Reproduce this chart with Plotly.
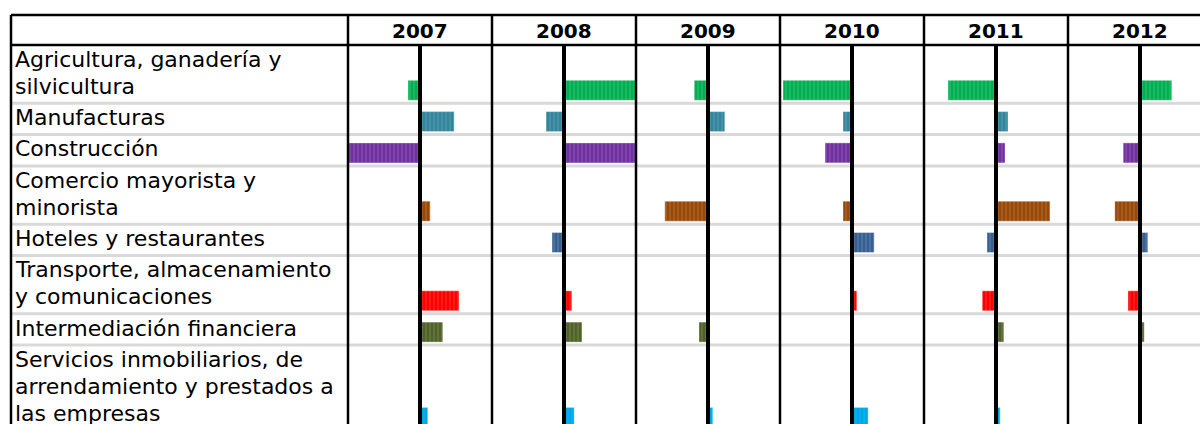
import plotly.graph_objects as go

# ---------------- data ----------------
years = ["2007", "2008", "2009", "2010", "2011", "2012"]
sectors = [
    "Agricultura, ganadería y\nsilvicultura",
    "Manufacturas",
    "Construcción",
    "Comercio mayorista y\nminorista",
    "Hoteles y restaurantes",
    "Transporte, almacenamiento\ny comunicaciones",
    "Intermediación financiera",
    "Servicios inmobiliarios, de\narrendamiento y prestados a\nlas empresas",
]
colors = ["#00B050", "#31859C", "#7030A0", "#984807",
          "#376092", "#FF0000", "#4F6228", "#00B0F0"]

v2007 = [-2.0, 5.7, -14.0, 1.7, 0.0, 6.5, 3.8, 1.3]
v2008 = [14.0, -3.0, 14.0, 0.0, -2.0, 1.3, 3.0, 1.7]
v2009 = [-2.3, 2.8, 0.0, -7.2, 0.0, 0.0, -1.5, 0.8]
v2010 = [-11.5, -1.5, -4.5, -1.5, 3.7, 0.8, 0.0, 2.7]
v2011 = [-8.0, 2.0, 1.5, 9.0, -1.5, -2.3, 1.3, 0.7]
v2012 = [5.3, 0.0, -2.8, -4.2, 1.3, -2.0, 0.7, 0.0]
values = [v2007, v2008, v2009, v2010, v2011, v2012]

# ---------------- layout constants (page pixels) ----------------
W, H = 1200, 424
LEFT = 11
TOP = 15
HEAD_BOTTOM = 45
LABEL_RIGHT = 348
COL_W = 144
LINE_H = 27
PAD = 4.3
XMAX = 12.0          # value reached at half a column width
BAR_H = 20
FONT = "DejaVu Sans"
LABEL_SIZE = 22
YEAR_SIZE = 20


def px(xpage):
    return xpage / W


lines_per_row = [s.split("\n") for s in sectors]
row_bottoms = []
y = HEAD_BOTTOM
for ls in lines_per_row:
    y += PAD + LINE_H * len(ls)
    row_bottoms.append(y)

fig = go.Figure()
shapes = []
annotations = []

for i, (yr, vals) in enumerate(zip(years, values)):
    left = LABEL_RIGHT + i * COL_W
    center = left + COL_W / 2
    right = min(left + COL_W, W)
    upper = XMAX * (right - center) / (COL_W / 2)
    ax = "x" if i == 0 else f"x{i+1}"
    axkey = "xaxis" if i == 0 else f"xaxis{i+1}"
    fig.update_layout(**{axkey: dict(domain=[px(left), px(right)],
                                     range=[-XMAX, upper],
                                     visible=False, fixedrange=True, anchor="y")})
    fig.add_trace(go.Bar(
        x=vals, y=[rb - 3 - BAR_H / 2 for rb in row_bottoms], width=BAR_H,
        orientation="h", xaxis=ax, yaxis="y",
        marker=dict(color=colors, line=dict(width=0.6, color="rgba(255,255,255,0.6)"),
                    pattern=dict(shape="|", fgcolor="white", fgopacity=0.25,
                                 size=4, solidity=0.2, fillmode="overlay")),
        showlegend=False, hoverinfo="x",
    ))
    shapes.append(dict(type="line", xref=ax, yref="y", x0=0, x1=0,
                       y0=HEAD_BOTTOM, y1=H + 20, line=dict(color="black", width=4),
                       layer="above"))
    annotations.append(dict(text=f"<b>{yr}</b>", x=px(center), xref="paper",
                            y=31, yref="y", showarrow=False,
                            xanchor="center", yanchor="middle",
                            font=dict(family=FONT, size=YEAR_SIZE, color="black")))

# row separators
for rb in row_bottoms[:-1]:
    shapes.append(dict(type="line", xref="paper", yref="y", x0=px(LEFT), x1=1,
                       y0=rb, y1=rb, line=dict(color="#D9D9D9", width=3), layer="below"))

# labels
for ls, rb in zip(lines_per_row, row_bottoms):
    n = len(ls)
    for k, txt in enumerate(ls):
        annotations.append(dict(text=txt, x=px(LEFT + 2), xref="paper",
                                y=rb - 17 - (n - 1 - k) * LINE_H, yref="y",
                                showarrow=False, xanchor="left", yanchor="middle",
                                font=dict(family=FONT, size=LABEL_SIZE, color="black")))

# table borders
shapes.append(dict(type="line", xref="paper", yref="y", x0=px(LEFT), x1=1,
                   y0=TOP, y1=TOP, line=dict(color="black", width=2.5), layer="above"))
shapes.append(dict(type="line", xref="paper", yref="y", x0=px(LEFT), x1=1,
                   y0=HEAD_BOTTOM, y1=HEAD_BOTTOM, line=dict(color="black", width=2.5),
                   layer="above"))
shapes.append(dict(type="line", xref="paper", yref="y", x0=px(LEFT), x1=px(LEFT),
                   y0=TOP, y1=H + 20, line=dict(color="black", width=2.5), layer="above"))
for i in range(len(years)):
    xl = px(LABEL_RIGHT + i * COL_W)
    shapes.append(dict(type="line", xref="paper", yref="y", x0=xl, x1=xl,
                       y0=TOP, y1=H + 20, line=dict(color="black", width=2.5),
                       layer="above"))

fig.update_layout(
    width=W, height=H,
    margin=dict(l=0, r=0, t=0, b=0),
    paper_bgcolor="white", plot_bgcolor="white",
    yaxis=dict(domain=[0, 1], range=[H, 0], visible=False, fixedrange=True),
    shapes=shapes, annotations=annotations,
    bargap=0, showlegend=False,
)

fig.write_html(
    "out.html",
    config={"displayModeBar": False, "staticPlot": True},
    post_script="document.body.style.margin='0px';"
                "document.body.style.overflow='hidden';",
)
